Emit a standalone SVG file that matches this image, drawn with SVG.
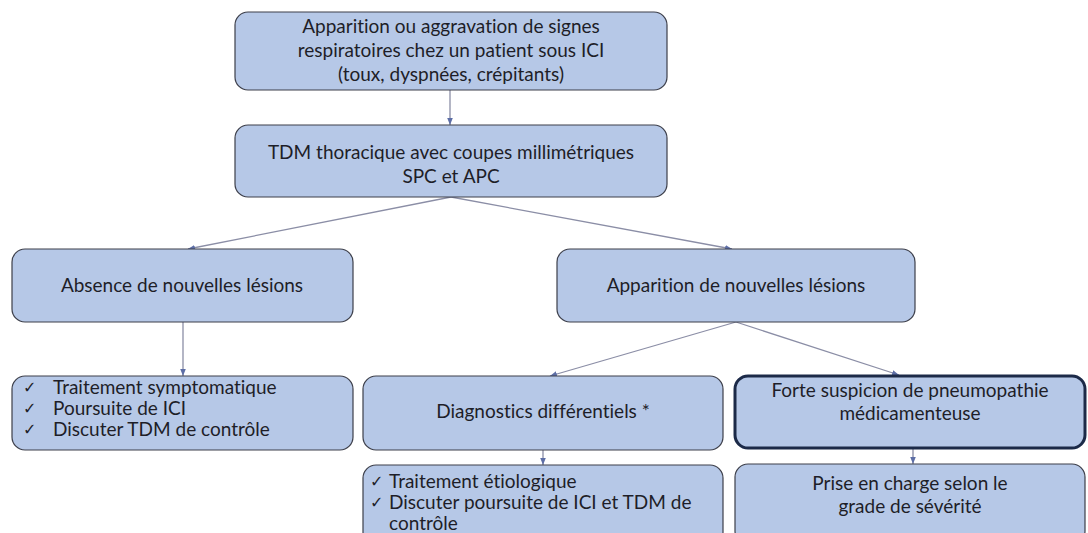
<svg xmlns="http://www.w3.org/2000/svg" width="1088" height="533" viewBox="0 0 1088 533">
<defs>
<style>
.box{fill:#b6c8e7;stroke:#3d3f4a;stroke-width:1.2}
.strong{fill:#b6c8e7;stroke:#1c2a48;stroke-width:3}
.t{font-family:"Lato","Liberation Sans",sans-serif;font-size:19px;fill:#1e1e28;font-variant-ligatures:none}
.c{text-anchor:middle}
.chk{font-family:"DejaVu Sans",sans-serif;font-size:16px;fill:#1e1e28}
.conn{stroke:#8b8ea6;stroke-width:1.3;fill:none;marker-end:url(#ah)}
</style>
<marker id="ah" viewBox="0 0 10 10" refX="10" refY="5" markerWidth="7" markerHeight="7" orient="auto" markerUnits="userSpaceOnUse">
<path d="M0,1 L10,5 L0,9 z" fill="#5d6ea6"/>
</marker>
</defs>
<rect width="1088" height="533" fill="#ffffff"/>
<g id="connectors">
<line class="conn" x1="450" y1="90" x2="450" y2="125"/>
<line class="conn" x1="451" y1="197" x2="188" y2="249"/>
<line class="conn" x1="451" y1="197" x2="732" y2="249"/>
<line class="conn" x1="183" y1="322" x2="183" y2="376"/>
<line class="conn" x1="736" y1="322" x2="550" y2="376"/>
<line class="conn" x1="736" y1="322" x2="899" y2="375"/>
<line class="conn" x1="543" y1="450" x2="543" y2="465"/>
<line class="conn" x1="913" y1="449" x2="913" y2="464"/>
</g>
<g id="n1">
<rect class="box" x="235" y="12" width="432" height="78" rx="13"/>
<text class="t c" x="451" y="33">Apparition ou aggravation de signes</text>
<text class="t c" x="451" y="57">respiratoires chez un patient sous ICI</text>
<text class="t c" x="451" y="81">(toux, dyspnées, crépitants)</text>
</g>
<g id="n2">
<rect class="box" x="235" y="125" width="432" height="72" rx="13"/>
<text class="t c" x="451" y="159">TDM thoracique avec coupes millimétriques</text>
<text class="t c" x="451" y="183">SPC et APC</text>
</g>
<g id="n3">
<rect class="box" x="12" y="249" width="341" height="73" rx="13"/>
<text class="t c" x="182" y="292">Absence de nouvelles lésions</text>
</g>
<g id="n4">
<rect class="box" x="557" y="249" width="358" height="73" rx="13"/>
<text class="t c" x="736" y="292">Apparition de nouvelles lésions</text>
</g>
<g id="n5">
<rect class="box" x="12" y="376" width="341" height="74" rx="13"/>
<text class="chk" x="23" y="393">✓</text>
<text class="t" x="53" y="394">Traitement symptomatique</text>
<text class="chk" x="23" y="414">✓</text>
<text class="t" x="53" y="415">Poursuite de ICI</text>
<text class="chk" x="23" y="435">✓</text>
<text class="t" x="53" y="436">Discuter TDM de contrôle</text>
</g>
<g id="n6">
<rect class="box" x="363" y="376" width="360" height="74" rx="13"/>
<text class="t c" x="543" y="418">Diagnostics différentiels *</text>
</g>
<g id="n7">
<rect class="strong" x="735" y="376" width="350" height="72" rx="13"/>
<text class="t c" x="910" y="397">Forte suspicion de pneumopathie</text>
<text class="t c" x="910" y="420">médicamenteuse</text>
</g>
<g id="n8">
<rect class="box" x="363" y="465" width="360" height="80" rx="13"/>
<text class="chk" x="370" y="487">✓</text>
<text class="t" x="389" y="488">Traitement étiologique</text>
<text class="chk" x="370" y="508">✓</text>
<text class="t" x="389" y="509">Discuter poursuite de ICI et TDM de</text>
<text class="t" x="389" y="530">contrôle</text>
</g>
<g id="n9">
<rect class="box" x="735" y="464" width="350" height="80" rx="13"/>
<text class="t c" x="910" y="490">Prise en charge selon le</text>
<text class="t c" x="910" y="513">grade de sévérité</text>
</g>
</svg>
